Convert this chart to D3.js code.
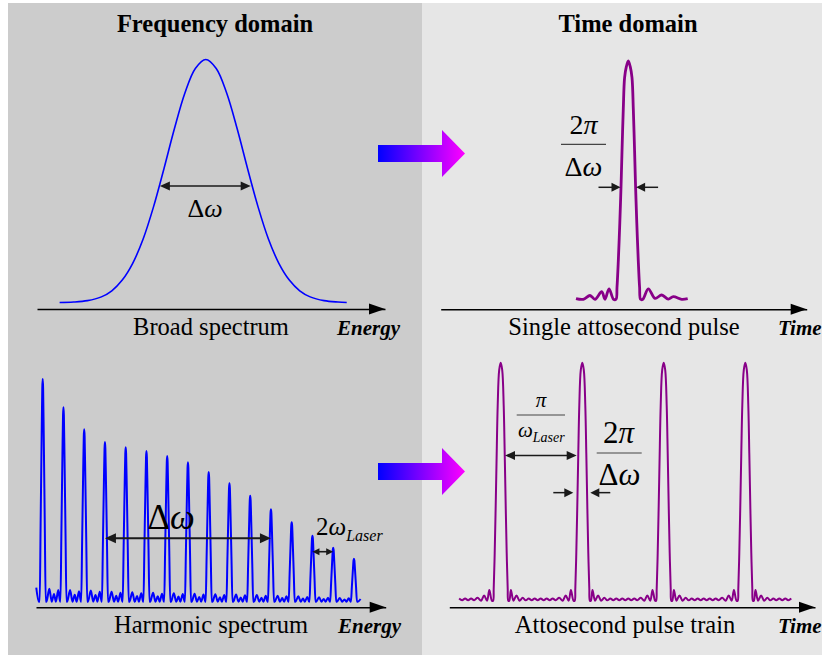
<!DOCTYPE html>
<html><head><meta charset="utf-8">
<script src="https://cdn.jsdelivr.net/npm/d3@7"></script>
<style>html,body{margin:0;padding:0;background:#fff}svg{display:block}</style>
</head><body><svg id="c" width="822" height="655"></svg>
<script>
// ---------------- DATA ----------------
const panelTitles = ["Frequency domain", "Time domain"];
const panelLabels = ["Broad spectrum", "Single attosecond pulse", "Harmonic spectrum", "Attosecond pulse train"];
const axisNames = ["Energy", "Time", "Energy", "Time"];

// Broad spectrum (energy in arb. units, normalised amplitude)
const broadEnergy = [6.5, 10.5, 14.5, 18.5, 21.5, 24.5, 27.5, 30.5, 33.5, 36.5, 39.5, 42.5, 45.5, 48.5,
                     51.5, 54.5, 57.5, 60.5, 63.5, 66.5, 69.5, 72.5, 75.5, 78.5, 82.5, 86.5, 89];
const broadAmp = [0.0007, 0.0026, 0.0084, 0.024, 0.049, 0.093, 0.162, 0.262, 0.395, 0.552, 0.716, 0.862, 0.963, 1,
                  0.963, 0.862, 0.716, 0.552, 0.395, 0.262, 0.162, 0.093, 0.049, 0.024, 0.0084, 0.0026, 0.0008];
const broadFwhm = [35.3, 61.4];   // energies at half maximum

// Single attosecond pulse (time in arb. units, normalised amplitude)
const singleTime = [-52.3, -45, -38.3, -33.3, -26.6, -23.3, -19.3, -14.8, -12.3, -11.3, -10, -8.5, -7.3, -6.3, -5, -3.7, -2, 0,
                    2, 3.7, 5, 6.3, 7.3, 8.5, 10, 11.3, 12.3, 14.5, 20, 26.7, 33.4, 40, 45, 53.4, 59.4];
const singleAmp = [0.003, 0, 0.016, 0, 0.032, 0, 0.044, 0, 0, 0.05, 0.16, 0.32, 0.47, 0.62, 0.80, 0.93, 0.975, 1,
                   0.975, 0.93, 0.80, 0.62, 0.47, 0.32, 0.16, 0.05, 0, 0, 0.044, 0.004, 0.018, 0.001, 0.011, 0, 0.003];
const singleWidth = [-7.3, 7.3];

// Harmonic spectrum (harmonic order, normalised peak height)
const harmonicOrder = [13, 15, 17, 19, 21, 23, 25, 27, 29, 31, 33, 35, 37, 39, 41, 43];
const harmonicHeight = [1.0, 0.873, 0.774, 0.717, 0.693, 0.677, 0.654, 0.626, 0.582, 0.532, 0.476, 0.415, 0.357, 0.296, 0.242, 0.193];
const harmonicRipple = [0.058, 0.052, 0.05, 0.045, 0.042, 0.04, 0.038, 0.036, 0.034, 0.032, 0.03, 0.027, 0.024, 0.02, 0.017, 0.012];
const harmonicLead = [[12.38, 0.063], [12.62, 0]];
const harmonicEnd = 43.75;
const harmonicPeakOffset = [-0.29, -0.2, -0.1, -0.04, 0, 0.04, 0.1, 0.2, 0.29];
const harmonicPeakLevel  = [0, 0.35, 0.75, 0.96, 1, 0.96, 0.75, 0.35, 0];
const harmonicGapOffset = [0.36, 0.64, 0.87, 1.09, 1.27, 1.5, 1.68];
const harmonicGapLevel  = [0, 1, 0, 0.6, 0, 0.9, 0];
const harmonicSpan = [19, 35];     // Δω arrow
const harmonicStep = [39, 41];     // 2ω_Laser arrow

// Attosecond pulse train (time in arb. units)
const trainPulseTime = [0, 81.6, 163, 244.6];
const trainRange = [-43.7, 291];
const trainPulseOffset = [-7.6, -7, -6, -5, -4, -3, -1.5, 0, 1.5, 3, 4, 5, 6, 7, 7.6];
const trainPulseLevel  = [0, 0.05, 0.2, 0.4, 0.62, 0.82, 0.97, 1, 0.97, 0.82, 0.62, 0.4, 0.2, 0.05, 0];
const trainGapOffset = [8.6, 10.2, 12.8, 15.8, 18.8, 22, 25, 28, 31, 34, 37, 40, 43, 46, 49, 52, 55, 58.5, 62, 65, 68, 70.2, 72.8];
const trainGapLevel  = [0, 0.045, 0, 0.022, 0, 0.012, 0.002, 0.009, 0.002, 0.009, 0.002, 0.009, 0.002, 0.009, 0.002, 0.009, 0.002, 0.012, 0, 0.022, 0, 0.045, 0];
const trainPeriodArrow = [4.3, 76];
const trainWidthArrow = [-9, 8];

// ---------------- DRAW ----------------
const svg = d3.select("#c");
const FONT = "'Liberation Serif','Times New Roman',serif";

// panels
svg.append("rect").attr("x", 8).attr("y", 3).attr("width", 414).attr("height", 652).attr("fill", "#cccccc");
svg.append("rect").attr("x", 422).attr("y", 3).attr("width", 400).attr("height", 652).attr("fill", "#e6e6e6");

// gradient
const defs = svg.append("defs");
const grad = defs.append("linearGradient").attr("id", "g").attr("gradientUnits", "userSpaceOnUse")
  .attr("x1", 378).attr("x2", 465).attr("y1", 0).attr("y2", 0);
grad.append("stop").attr("offset", 0).attr("stop-color", "#0000ff");
grad.append("stop").attr("offset", 1).attr("stop-color", "#ff00ff");

// titles
svg.selectAll("text.title").data(panelTitles).join("text").attr("class", "title")
  .attr("x", (d, i) => [215, 628][i]).attr("y", 32).attr("text-anchor", "middle")
  .attr("font-family", FONT).attr("font-weight", "bold").attr("font-size", 24.5).text(d => d);

// scales
const xBroad = d3.scaleLinear().domain([0, 100]).range([37, 385]);
const yBroad = d3.scaleLinear().domain([0, 1]).range([302.7, 59.5]);
const xSingle = d3.scaleLinear().domain([-187.6, 178.4]).range([440.7, 806.7]);
const ySingle = d3.scaleLinear().domain([0, 1]).range([299.3, 61]);
const xHarm = d3.scaleLinear().domain([12.354, 46.06]).range([36, 385.7]);
const yHarm = d3.scaleLinear().domain([0, 1]).range([601.7, 379]);
const xTrain = d3.scaleLinear().domain([-51.4, 314.3]).range([449.3, 815]);
const yTrain = d3.scaleLinear().domain([0, 1]).range([600.7, 362.7]);

const axes = [
  {x: xBroad, y: 309},
  {x: xSingle, y: 309.3},
  {x: xHarm, y: 607.3},
  {x: xTrain, y: 607.3}
];
axes.forEach((a, i) => {
  const g = svg.append("g").attr("transform", `translate(0,${a.y})`)
    .call(d3.axisBottom(a.x).tickValues([]).tickSizeOuter(0));
  g.select(".domain").attr("stroke", "#000").attr("stroke-width", 1.6);
  const tip = a.x.range()[1];
  g.append("path").attr("d", `M${tip},0 L${tip - 16},-5.5 L${tip - 16},5.5 Z`).attr("fill", "#000");
});

// panel labels
const labelPos = [[211, 335], [624, 335], [211, 633], [625, 633]];
svg.selectAll("text.lab").data(panelLabels).join("text").attr("class", "lab")
  .attr("x", (d, i) => labelPos[i][0]).attr("y", (d, i) => labelPos[i][1]).attr("text-anchor", "middle")
  .attr("font-family", FONT).attr("font-size", 24.5).text(d => d);
const namePos = [[337, 335], [778, 335], [338, 633], [778, 633]];
svg.selectAll("text.nm").data(axisNames).join("text").attr("class", "nm")
  .attr("x", (d, i) => namePos[i][0]).attr("y", (d, i) => namePos[i][1])
  .attr("font-family", FONT).attr("font-size", 21).attr("font-weight", "bold").attr("font-style", "italic").text(d => d);

// curves
const broadData = broadEnergy.map((e, i) => [e, broadAmp[i]]);
svg.append("path").datum(broadData).attr("fill", "none").attr("stroke", "#0000ff").attr("stroke-width", 1.6)
  .attr("d", d3.line().x(d => xBroad(d[0])).y(d => yBroad(d[1])).curve(d3.curveCatmullRom));

const singleData = singleTime.map((t, i) => [t, singleAmp[i]]);
svg.append("path").datum(singleData).attr("fill", "none").attr("stroke", "#880088").attr("stroke-width", 2.8)
  .attr("stroke-linejoin", "round")
  .attr("d", d3.line().x(d => xSingle(d[0])).y(d => ySingle(d[1])).curve(d3.curveCatmullRom.alpha(0.5)));

// harmonic spectrum series
const harmData = harmonicLead.slice();
harmonicOrder.forEach((q, i) => {
  harmonicPeakOffset.forEach((o, j) => harmData.push([q + o, harmonicHeight[i] * harmonicPeakLevel[j]]));
  harmonicGapOffset.forEach((o, j) => {
    if (q + o <= harmonicEnd) harmData.push([q + o, harmonicRipple[i] * harmonicGapLevel[j]]);
  });
});
svg.append("path").datum(harmData).attr("fill", "none").attr("stroke", "#0000ff").attr("stroke-width", 2)
  .attr("d", d3.line().x(d => xHarm(d[0])).y(d => yHarm(d[1])).curve(d3.curveMonotoneX));

// pulse train series
const trainData = [];
const pulses = [trainPulseTime[0] - (trainPulseTime[1] - trainPulseTime[0])].concat(trainPulseTime);
pulses.forEach((p, k) => {
  if (k > 0) trainPulseOffset.forEach((o, j) => trainData.push([p + o, trainPulseLevel[j]]));
  trainGapOffset.forEach((o, j) => trainData.push([p + o, trainGapLevel[j]]));
});
const trainSeries = trainData.filter(d => d[0] >= trainRange[0] && d[0] <= trainRange[1]).sort((a, b) => a[0] - b[0]);
svg.append("path").datum(trainSeries).attr("fill", "none").attr("stroke", "#880088").attr("stroke-width", 2)
  .attr("stroke-linejoin", "round")
  .attr("d", d3.line().x(d => xTrain(d[0])).y(d => yTrain(d[1])).curve(d3.curveCatmullRom.alpha(0.5)));

// big gradient arrows
[0, 318].forEach(dy => {
  svg.append("path").attr("fill", "url(#g)")
    .attr("d", `M378,${145 + dy} H442 V${130 + dy} L465,${153.5 + dy} L442,${177 + dy} V${162 + dy} H378 Z`);
});

// annotation helpers
const AC = "#1a1a1a";
function head(x, y, dir, len = 10, half = 4.5) {
  svg.append("path").attr("fill", AC)
    .attr("d", `M${x},${y} L${x - dir * len},${y - half} L${x - dir * len},${y + half} Z`);
}
function dbl(x1, x2, y, len = 10, half = 4.5, w = 1.6) {
  svg.append("line").attr("x1", x1 + len * 0.5).attr("x2", x2 - len * 0.5).attr("y1", y).attr("y2", y)
    .attr("stroke", AC).attr("stroke-width", w);
  head(x1, y, -1, len, half); head(x2, y, 1, len, half);
}
function inward(xl, xr, y, len) {
  svg.append("line").attr("x1", xl - len).attr("x2", xl - 6).attr("y1", y).attr("y2", y).attr("stroke", AC).attr("stroke-width", 1.5);
  head(xl, y, 1, 9, 4.5);
  svg.append("line").attr("x1", xr + len).attr("x2", xr + 6).attr("y1", y).attr("y2", y).attr("stroke", AC).attr("stroke-width", 1.5);
  head(xr, y, -1, 9, 4.5);
}
function mathText(x, y, size, parts, anchor = "middle") {
  const t = svg.append("text").attr("x", x).attr("y", y).attr("text-anchor", anchor)
    .attr("font-family", FONT).attr("font-size", size).attr("fill", "#000");
  parts.forEach(p => {
    const s = t.append("tspan").text(p.t).attr("font-style", p.i ? "italic" : "normal");
    if (p.s) s.attr("font-size", p.s);
    if (p.dy) s.attr("dy", p.dy);
  });
}
function bar(x1, x2, y) {
  svg.append("line").attr("x1", x1).attr("x2", x2).attr("y1", y).attr("y2", y).attr("stroke", "#444").attr("stroke-width", 1.2);
}

// top-left Δω
dbl(xBroad(broadFwhm[0]), xBroad(broadFwhm[1]), yBroad(0.48));
mathText(205, 216.7, 26, [{t: "Δ"}, {t: "ω", i: true}]);

// top-right 2π/Δω
mathText(583.5, 134, 28, [{t: "2"}, {t: "π", i: true}]);
bar(561, 606, 144.3);
mathText(583.5, 176, 28, [{t: "Δ"}, {t: "ω", i: true}]);
inward(xSingle(singleWidth[0]) - 0.5, xSingle(singleWidth[1]) + 0.5, ySingle(0.47), 22);

// bottom-left
dbl(xHarm(harmonicSpan[0]), xHarm(harmonicSpan[1]), yHarm(0.285), 11, 5, 1.8);
mathText(171, 529.3, 35, [{t: "Δ"}, {t: "ω", i: true}]);
dbl(xHarm(harmonicStep[0]), xHarm(harmonicStep[1]), yHarm(0.2245), 7, 3.5, 1.6);
mathText(316, 535, 25, [{t: "2"}, {t: "ω", i: true}, {t: "Laser", i: true, s: 16, dy: 6}], "start");

// bottom-right
mathText(541, 406.7, 21, [{t: "π", i: true}]);
bar(516.7, 565, 415);
mathText(518, 437.3, 21, [{t: "ω", i: true}, {t: "Laser", i: true, s: 14, dy: 5}], "start");
dbl(xTrain(trainPulseTime[0] + trainPeriodArrow[0]), xTrain(trainPulseTime[0] + trainPeriodArrow[1]), yTrain(0.61), 10, 4.5, 1.6);
mathText(618.5, 443.3, 31, [{t: "2"}, {t: "π", i: true}]);
bar(596.7, 641.7, 453);
mathText(619.5, 485, 31, [{t: "Δ"}, {t: "ω", i: true}]);
inward(xTrain(trainPulseTime[1] + trainWidthArrow[0]), xTrain(trainPulseTime[1] + trainWidthArrow[1]), yTrain(0.454), 20);
</script></body></html>
